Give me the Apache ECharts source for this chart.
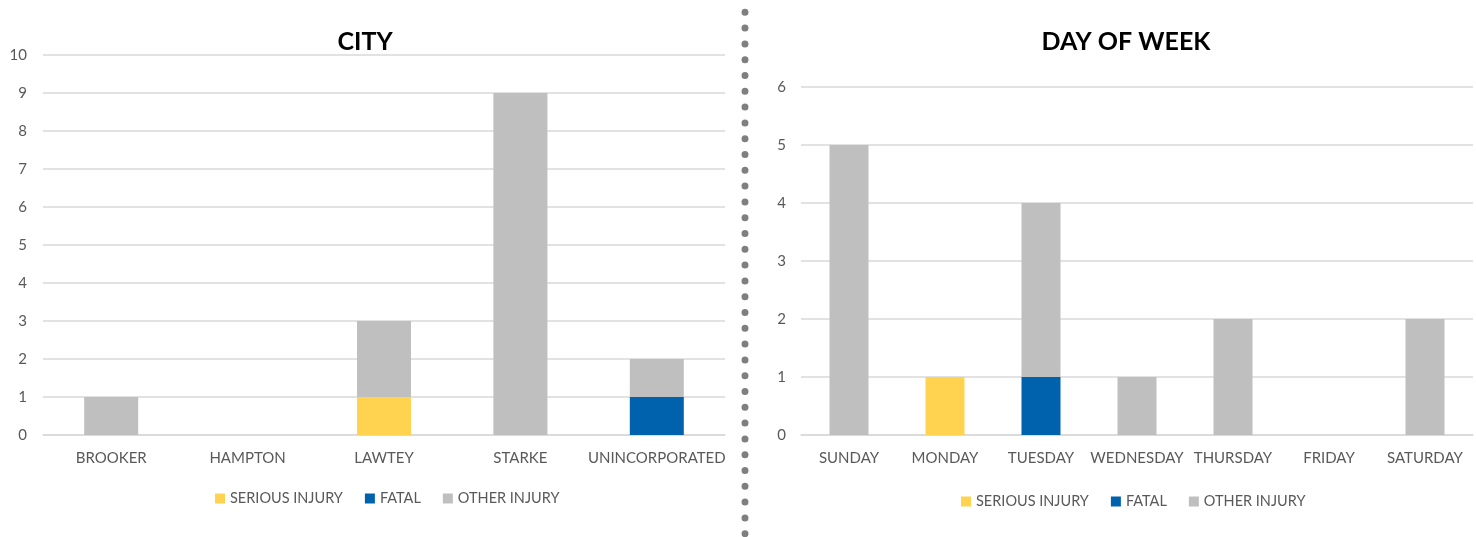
<!DOCTYPE html>
<html lang="en">
<head>
    <meta charset="utf-8">
    <title>Crashes by city and day of week</title>
    <script src="https://cdn.jsdelivr.net/npm/echarts@6/dist/echarts.min.js"></script>
    <style>
        html, body { margin: 0; padding: 0; background: #ffffff; }
        #main { width: 1476px; height: 537px; }
    </style>
</head>
<body>
<div id="main"></div>
<script type="text/javascript">
    // 数据
    var cities = ['BROOKER', 'HAMPTON', 'LAWTEY', 'STARKE', 'UNINCORPORATED'];
    var citySerious = [0, 0, 1, 0, 0];
    var cityFatal = [0, 0, 0, 0, 1];
    var cityOther = [1, 0, 2, 9, 1];

    var days = ['SUNDAY', 'MONDAY', 'TUESDAY', 'WEDNESDAY', 'THURSDAY', 'FRIDAY', 'SATURDAY'];
    var daySerious = [0, 1, 0, 0, 0, 0, 0];
    var dayFatal = [0, 0, 1, 0, 0, 0, 0];
    var dayOther = [5, 0, 3, 1, 2, 0, 2];

    var seriesNames = ['SERIOUS INJURY', 'FATAL', 'OTHER INJURY'];
    var colors = ['#FFD34F', '#0062AC', '#BFBFBF'];

    var font = 'Lato, "Open Sans", sans-serif';
    var textColor = '#595959';

    function yAxis(max, idx, margin) {
        return {
            type: 'value', gridIndex: idx, min: 0, max: max, interval: 1,
            axisLine: { show: false }, axisTick: { show: false },
            axisLabel: { color: textColor, fontSize: 15, fontFamily: font, margin: margin },
            splitLine: { lineStyle: { color: '#D9D9D9', width: 1.5 } }
        };
    }
    function xAxis(data, idx) {
        return {
            type: 'category', gridIndex: idx, data: data,
            axisLine: { lineStyle: { color: '#D9D9D9', width: 1.5 } },
            axisTick: { show: false },
            axisLabel: { color: textColor, fontSize: 15, fontFamily: font, margin: 16, interval: 0 }
        };
    }
    function bars(idx, name, data, color, width) {
        return {
            name: name, type: 'bar', stack: 's' + idx,
            xAxisIndex: idx, yAxisIndex: idx,
            barWidth: width, data: data,
            itemStyle: { color: color }
        };
    }
    function legend(left, top) {
        return {
            data: seriesNames, left: left, top: top,
            itemWidth: 10, itemHeight: 10, itemGap: 22, icon: 'rect',
            textStyle: { color: textColor, fontSize: 14.5, fontFamily: font }
        };
    }

    var myChart = echarts.init(document.getElementById('main'));
    myChart.setOption({
        backgroundColor: '#FFFFFF',
        animation: false,
        title: [
            { text: 'CITY', left: 360, top: 24, textAlign: 'center',
              textStyle: { fontSize: 25, fontWeight: 'bold', color: '#000000', fontFamily: font } },
            { text: 'DAY OF WEEK', left: 1121, top: 24, textAlign: 'center',
              textStyle: { fontSize: 25, fontWeight: 'bold', color: '#000000', fontFamily: font } }
        ],
        legend: [legend(210, 486), legend(956, 489)],
        grid: [
            { left: 43, right: 751, top: 55, bottom: 102 },
            { left: 801, right: 3, top: 87, bottom: 102 }
        ],
        xAxis: [xAxis(cities, 0), xAxis(days, 1)],
        yAxis: [yAxis(10, 0, 16), yAxis(6, 1, 15)],
        series: [
            bars(0, seriesNames[0], citySerious, colors[0], 54),
            bars(0, seriesNames[1], cityFatal, colors[1], 54),
            bars(0, seriesNames[2], cityOther, colors[2], 54),
            bars(1, seriesNames[0], daySerious, colors[0], 39),
            bars(1, seriesNames[1], dayFatal, colors[1], 39),
            bars(1, seriesNames[2], dayOther, colors[2], 39)
        ],
        graphic: [{
            type: 'line',
            shape: { x1: 745, y1: 12.3, x2: 745, y2: 534 },
            style: { stroke: '#7F7F7F', lineWidth: 7, lineCap: 'round', lineDash: [0, 15.8] },
            silent: true
        }]
    });
</script>
</body>
</html>
